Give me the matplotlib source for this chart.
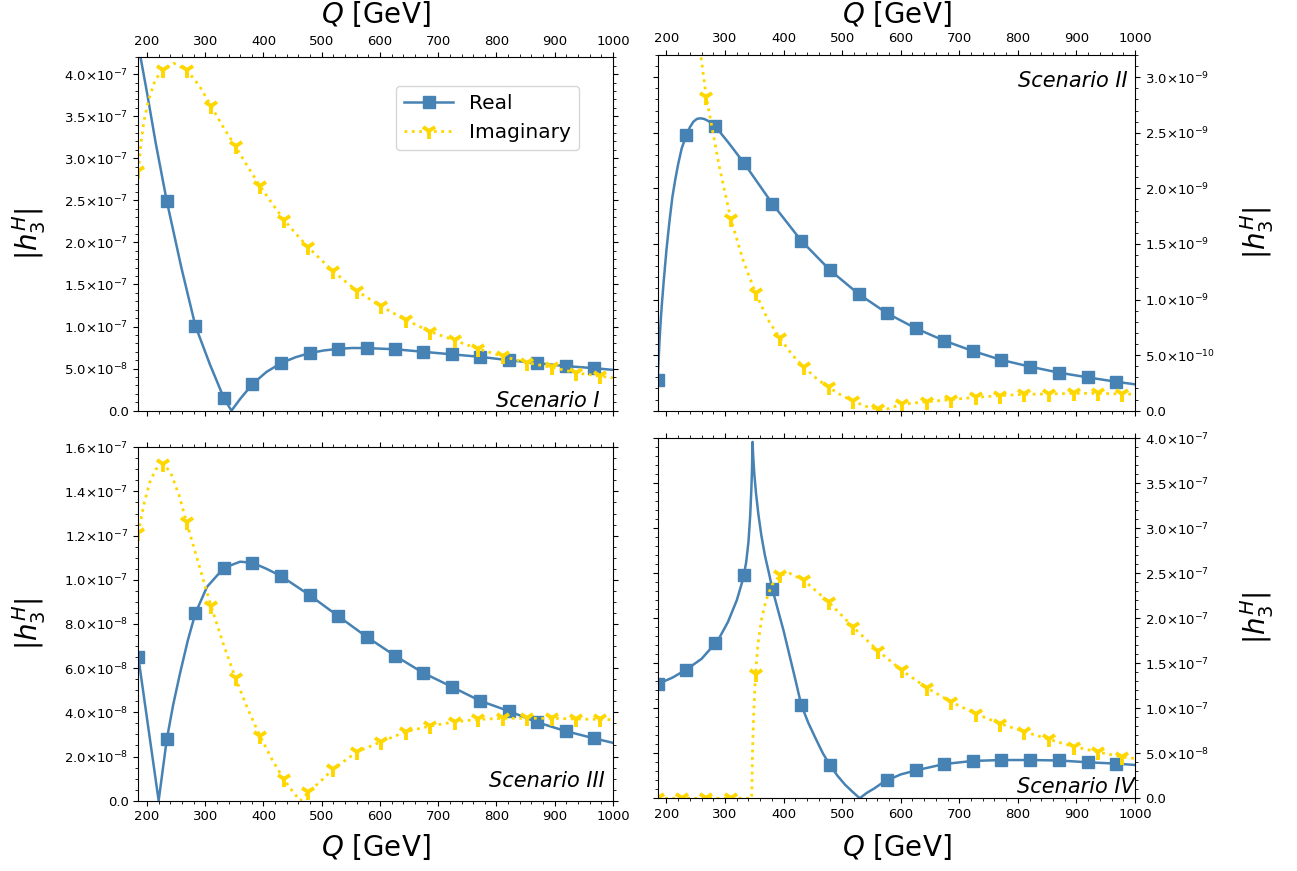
import numpy as np
import matplotlib
matplotlib.use("Agg")
import matplotlib.pyplot as plt
from matplotlib.ticker import MultipleLocator, AutoMinorLocator, FuncFormatter

# Q values (GeV) where markers sit, same in every scenario
q_real_marks = [185, 234, 283, 332, 381, 430, 479, 528, 577, 626, 674, 723, 772, 821, 870, 919, 968]
q_imag_marks = [185, 227, 268, 310, 352, 394, 435, 477, 519, 561, 602, 644, 686, 728, 769, 811, 853,
                895, 936, 978]

# Scenario I  (units of 1e-7)
q1_re = [185, 200, 215, 234, 259, 283, 308, 332, 345, 360, 381, 405, 430, 455, 479, 503, 528, 552,
         577, 626, 674, 723, 772, 821, 870, 919, 968, 1000]
h1_re = [4.35, 3.78, 3.18, 2.49, 1.70, 1.01, 0.55, 0.15, 0.0, 0.14, 0.315, 0.46, 0.565, 0.635, 0.684,
         0.715, 0.735, 0.745, 0.744, 0.73, 0.70, 0.67, 0.64, 0.60, 0.565, 0.53, 0.505, 0.485]
q1_im = [185, 190, 195, 203, 214, 227, 246, 268, 290, 310, 331, 352, 373, 394, 415, 435, 456, 477,
         498, 519, 561, 602, 644, 686, 728, 769, 811, 853, 895, 936, 978, 1000]
h1_im = [2.85, 3.2, 3.45, 3.7, 3.93, 4.05, 4.13, 4.05, 3.86, 3.62, 3.37, 3.14, 2.9, 2.67, 2.46, 2.27,
         2.10, 1.94, 1.80, 1.66, 1.42, 1.24, 1.08, 0.94, 0.835, 0.735, 0.645, 0.57, 0.515, 0.45, 0.41, 0.39]

# Scenario II  (units of 1e-9)
q2_re = [185, 186.5, 188, 190, 192, 195, 200, 205, 210, 215, 220, 226, 234, 240, 246, 252, 258, 264,
         270, 276, 283, 306, 332, 381, 430, 479, 528, 577, 626, 674, 723, 772, 821, 870, 919, 968, 1000]
h2_re = [0.28, 0.45, 0.62, 0.8, 0.95, 1.15, 1.45, 1.7, 1.92, 2.08, 2.22, 2.36, 2.48, 2.55, 2.60, 2.625,
         2.63, 2.625, 2.61, 2.59, 2.56, 2.41, 2.23, 1.86, 1.53, 1.265, 1.05, 0.875, 0.74, 0.63, 0.537,
         0.456, 0.396, 0.342, 0.30, 0.26, 0.237]
q2_im = [227, 240, 250, 259, 268, 290, 310, 331, 352, 373, 394, 415, 435, 456, 477, 498, 519, 540,
         561, 570, 582, 602, 644, 686, 728, 769, 811, 853, 895, 936, 978, 1000]
h2_im = [4.7, 4.0, 3.55, 3.18, 2.82, 2.20, 1.72, 1.35, 1.06, 0.82, 0.65, 0.50, 0.39, 0.29, 0.21, 0.14,
         0.085, 0.04, 0.012, 0.002, 0.025, 0.058, 0.08, 0.10, 0.12, 0.135, 0.147, 0.15, 0.156, 0.156,
         0.15, 0.148]

# Scenario III  (units of 1e-8)
q3_re = [185, 220, 234, 245, 257, 270, 283, 303, 332, 360, 381, 405, 430, 479, 528, 577, 626, 674,
         723, 772, 821, 870, 919, 968, 1000]
h3_re = [6.52, 0.0, 2.78, 4.35, 5.8, 7.25, 8.48, 9.68, 10.54, 10.82, 10.77, 10.5, 10.17, 9.31, 8.36,
         7.42, 6.56, 5.79, 5.16, 4.52, 4.06, 3.55, 3.15, 2.82, 2.62]
q3_im = [185, 195, 205, 215, 227, 240, 255, 268, 290, 310, 331, 352, 373, 394, 415, 435, 450, 463,
         477, 498, 519, 561, 602, 644, 686, 728, 769, 811, 853, 895, 936, 978, 1000]
h3_im = [12.1, 13.46, 14.43, 15.0, 15.24, 14.9, 13.83, 12.6, 10.6, 8.81, 7.1, 5.54, 4.15, 2.93, 1.85,
         0.97, 0.42, 0.0, 0.38, 0.88, 1.42, 2.22, 2.67, 3.12, 3.38, 3.57, 3.68, 3.73, 3.73, 3.73, 3.70,
         3.68, 3.67]

# Scenario IV  (units of 1e-7)
q4_re = [185, 210, 234, 260, 283, 290, 305, 320, 330, 332, 336, 340, 343, 345, 346, 347, 348, 350,
         353, 357, 362, 368, 375, 381, 390, 400, 410, 420, 430, 442, 455, 467, 479, 492, 505, 518, 530,
         542, 555, 566, 577, 600, 626, 674, 723, 772, 821, 870, 919, 968, 1000]
h4_re = [1.27, 1.34, 1.43, 1.55, 1.72, 1.78, 1.96, 2.2, 2.42, 2.48, 2.62, 2.85, 3.15, 3.45, 3.65, 3.96,
         3.8, 3.6, 3.38, 3.15, 2.92, 2.7, 2.5, 2.32, 2.1, 1.86, 1.59, 1.32, 1.04, 0.84, 0.66, 0.5, 0.37,
         0.25, 0.15, 0.07, 0.0, 0.06, 0.11, 0.16, 0.20, 0.265, 0.31, 0.38, 0.415, 0.425, 0.425, 0.42,
         0.40, 0.385, 0.37]
q4_im = [185, 227, 268, 310, 345.5, 347, 349, 352, 356, 362, 370, 380, 394, 410, 435, 477, 519, 561,
         602, 644, 686, 728, 769, 811, 853, 895, 936, 978, 1000]
h4_im = [0.0, 0.0, 0.0, 0.0, 0.0, 0.55, 0.95, 1.38, 1.70, 1.98, 2.2, 2.37, 2.48, 2.5, 2.42, 2.18, 1.9,
         1.64, 1.42, 1.23, 1.07, 0.94, 0.83, 0.74, 0.655, 0.575, 0.515, 0.46, 0.44]


def sci_fmt(v, pos):
    if abs(v) < 1e-20:
        return "0.0"
    exp = int(np.floor(np.log10(abs(v)) + 1e-9))
    return r"${:.1f}{{\times}}10^{{{}}}$".format(v / 10 ** exp, exp)


def draw_panel(ax, q_re, h_re, q_im, h_im, unit, ymax, ystep):
    mre = [i for i, q in enumerate(q_re) if q in q_real_marks]
    mim = [i for i, q in enumerate(q_im) if q in q_imag_marks]
    ax.plot(q_re, np.array(h_re) * unit, color="steelblue", lw=1.8, marker="s", ms=9,
            markevery=mre, label="Real")
    ax.plot(q_im, np.array(h_im) * unit, color="gold", lw=2, ls=":", marker="1", ms=11.5, mew=2.8,
            markevery=mim, label="Imaginary")
    ax.set_xlim(185, 1000)
    ax.set_ylim(0, ymax)
    ax.xaxis.set_major_locator(MultipleLocator(100))
    ax.yaxis.set_major_locator(MultipleLocator(ystep))
    ax.xaxis.set_minor_locator(AutoMinorLocator())
    ax.yaxis.set_minor_locator(AutoMinorLocator())
    ax.yaxis.set_major_formatter(FuncFormatter(sci_fmt))
    ax.tick_params(which="both", direction="out", top=True, right=True, labelsize=9.5)


fig = plt.figure(figsize=(12.97, 8.71), dpi=100)
ax1 = fig.add_axes([0.1066, 0.5285, 0.366, 0.4057])
ax2 = fig.add_axes([0.5071, 0.5285, 0.368, 0.4084])
ax3 = fig.add_axes([0.1066, 0.0807, 0.366, 0.4058])
ax4 = fig.add_axes([0.5071, 0.0835, 0.368, 0.4133])

draw_panel(ax1, q1_re, h1_re, q1_im, h1_im, 1e-7, 4.2e-7, 0.5e-7)
draw_panel(ax2, q2_re, h2_re, q2_im, h2_im, 1e-9, 3.2e-9, 0.5e-9)
draw_panel(ax3, q3_re, h3_re, q3_im, h3_im, 1e-8, 1.6e-7, 0.2e-7)
draw_panel(ax4, q4_re, h4_re, q4_im, h4_im, 1e-7, 4.0e-7, 0.5e-7)

# top row: x labels on top (pushed just inside the figure)
for ax, ylab in [(ax1, 1.097), (ax2, 1.090)]:
    ax.tick_params(labeltop=True, labelbottom=False)
    ax.xaxis.set_label_position("top")
    ax.set_xlabel(r"$Q$ [GeV]", fontsize=20)
    ax.xaxis.set_label_coords(0.5, ylab)
for ax, ylab in [(ax3, -0.089), (ax4, -0.094)]:
    ax.set_xlabel(r"$Q$ [GeV]", fontsize=20)
    ax.xaxis.set_label_coords(0.5, ylab)

# left column / right column y labels
for ax in [ax1, ax3]:
    ax.set_ylabel(r"$|h_3^H|$", fontsize=20)
    ax.yaxis.set_label_coords(-0.19, 0.5)
for ax in [ax2, ax4]:
    ax.tick_params(labelright=True, labelleft=False)
    ax.yaxis.set_label_position("right")
    ax.set_ylabel(r"$|h_3^H|$", fontsize=20)
    ax.yaxis.set_label_coords(1.215, 0.5)

ax1.text(0.9726, 0.0105, "Scenario I", transform=ax1.transAxes, ha="right", va="baseline",
         style="italic", fontsize=15)
ax2.text(0.985, 0.91, "Scenario II", transform=ax2.transAxes, ha="right", va="baseline",
         style="italic", fontsize=15)
ax3.text(0.983, 0.04, "Scenario III", transform=ax3.transAxes, ha="right", va="baseline",
         style="italic", fontsize=15)
ax4.text(1.0, 0.014, "Scenario IV", transform=ax4.transAxes, ha="right", va="baseline",
         style="italic", fontsize=15)

ax1.legend(loc="upper right", bbox_to_anchor=(0.928, 0.919), borderaxespad=0, fontsize=14.5,
           handlelength=2.4)

fig.savefig("out.png", dpi=100)
